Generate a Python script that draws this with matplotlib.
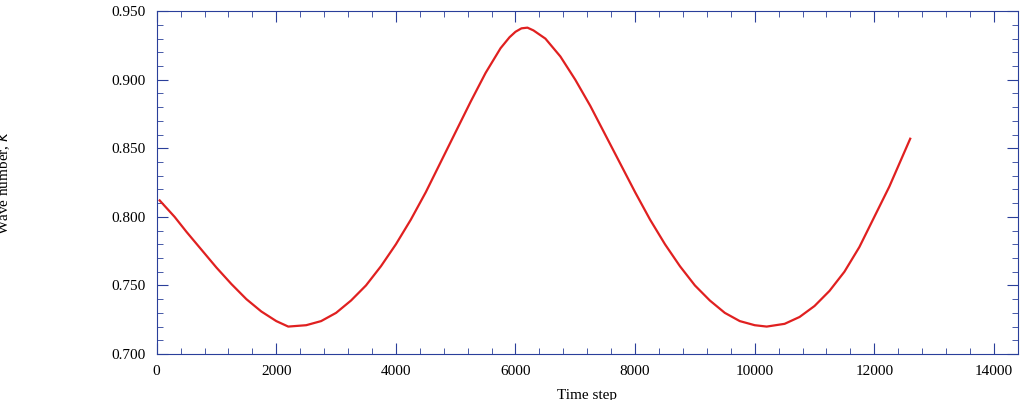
import matplotlib.pyplot as plt
from matplotlib.ticker import MultipleLocator, FormatStrFormatter

plt.rcParams['font.family'] = ['Liberation Serif', 'DejaVu Serif']

# values
steps = [50, 300, 500, 750, 1000, 1250, 1500, 1750, 2000, 2200, 2500, 2750, 3000, 3250,
         3500, 3750, 4000, 4250, 4500, 4750, 5000, 5250, 5500, 5750, 5900, 6000, 6100, 6200, 6300,
         6500, 6750, 7000, 7250, 7500, 7750, 8000, 8250, 8500, 8750, 9000, 9250, 9500,
         9750, 10000, 10200, 10500, 10750, 11000, 11250, 11500, 11750, 12000, 12250, 12600]
wave_k = [0.812, 0.800, 0.789, 0.776, 0.763, 0.751, 0.740, 0.731, 0.724, 0.720, 0.721,
          0.724, 0.730, 0.739, 0.750, 0.764, 0.780, 0.798, 0.818, 0.840, 0.862, 0.884,
          0.905, 0.923, 0.931, 0.935, 0.9375, 0.938, 0.936, 0.930, 0.917, 0.900, 0.881, 0.860, 0.839,
          0.818, 0.798, 0.780, 0.764, 0.750, 0.739, 0.730, 0.724, 0.721, 0.720, 0.722,
          0.727, 0.735, 0.746, 0.760, 0.778, 0.800, 0.822, 0.857]

fig, ax = plt.subplots(figsize=(10.24, 4.0), dpi=100)
fig.subplots_adjust(left=0.153, right=0.994, top=0.972, bottom=0.115)

ax.plot(steps, wave_k, color='#e02020', lw=1.6)
ax.set_xlim(0, 14400)
ax.set_ylim(0.700, 0.950)
ax.xaxis.set_major_locator(MultipleLocator(2000))
ax.xaxis.set_minor_locator(MultipleLocator(400))
ax.yaxis.set_major_locator(MultipleLocator(0.05))
ax.yaxis.set_minor_locator(MultipleLocator(0.01))
ax.yaxis.set_major_formatter(FormatStrFormatter('%.3f'))
ax.tick_params(which='both', direction='in', top=True, right=True, color='#2a3f9a',
               labelsize=11, pad=8)
ax.tick_params(which='major', length=8)
ax.tick_params(which='minor', length=4)
for s in ax.spines.values():
    s.set_color('#2a3f9a')

ax.set_xlabel('Time step', fontsize=11, labelpad=8)
ax.set_ylabel('Wave number, $\\it{k}$', fontsize=11)
ax.yaxis.set_label_coords(-0.168, 0.5)

fig.savefig('out.png')
